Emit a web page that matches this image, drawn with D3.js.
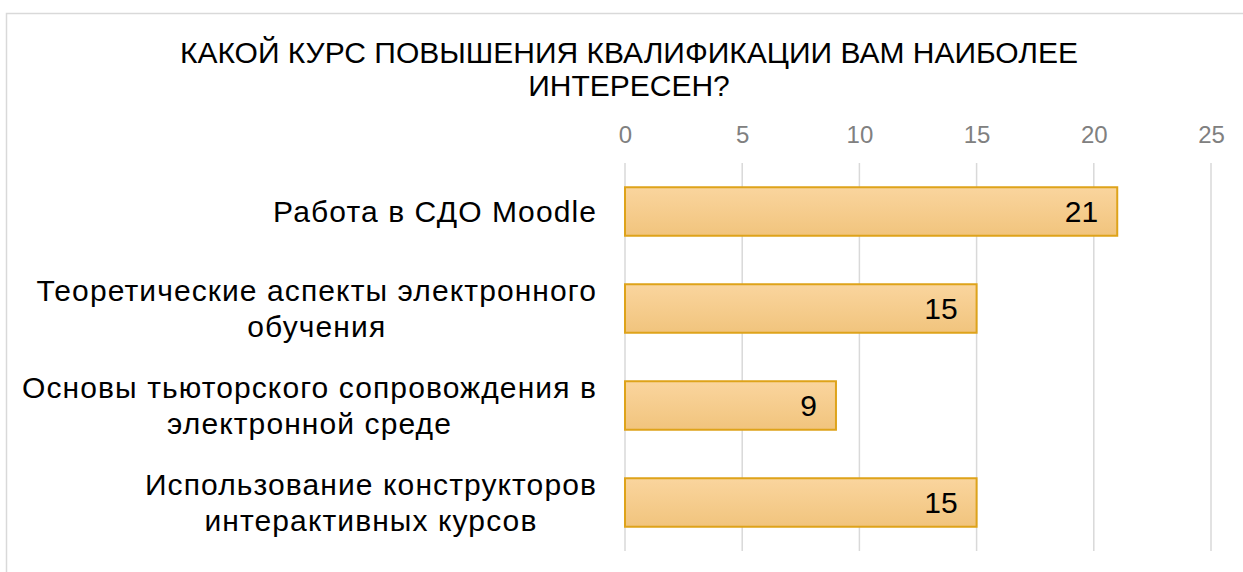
<!DOCTYPE html>
<html><head><meta charset="utf-8">
<script src="https://cdn.jsdelivr.net/npm/d3@7"></script>
<style>html,body{margin:0;padding:0;background:#fff;}</style>
</head><body>
<script>
const titleLines = ["КАКОЙ КУРС ПОВЫШЕНИЯ КВАЛИФИКАЦИИ ВАМ НАИБОЛЕЕ", "ИНТЕРЕСЕН?"];
const categories = [
  ["Работа в СДО Moodle"],
  ["Теоретические аспекты электронного", "обучения"],
  ["Основы тьюторского сопровождения в", "электронной среде"],
  ["Использование конструкторов", "интерактивных курсов"]
];
const values = [21, 15, 9, 15];
const tickValues = [0, 5, 10, 15, 20, 25];

const W = 1243, H = 572;
const FONT = "'Liberation Sans', Arial, sans-serif";
const svg = d3.select("body").append("svg").attr("width", W).attr("height", H)
  .style("font-family", FONT);

const defs = svg.append("defs");
const grad = defs.append("linearGradient").attr("id", "barGrad").attr("x1", 0).attr("y1", 0).attr("x2", 0).attr("y2", 1);
grad.append("stop").attr("offset", "0%").attr("stop-color", "#fad59e");
grad.append("stop").attr("offset", "100%").attr("stop-color", "#f1c47d");

// chart border
svg.append("rect").attr("x", 6.5).attr("y", 13.5).attr("width", 1250).attr("height", 600)
  .attr("fill", "none").attr("stroke", "#d9d9d9").attr("stroke-width", 1.5);

const x = d3.scaleLinear().domain([0, 25]).range([625, 1211]);
const y = d3.scaleBand().domain(d3.range(categories.length)).range([163, 551]).paddingInner(0.5).paddingOuter(0.25);

// title
const title = svg.append("text").attr("text-anchor", "middle").attr("font-size", 30).attr("fill", "#000");
titleLines.forEach((t, i) => title.append("tspan").attr("x", 629).attr("y", 62.5 + i * 33).text(t));

// gridlines
svg.append("g").selectAll("line").data(tickValues).join("line")
  .attr("x1", d => x(d)).attr("x2", d => x(d))
  .attr("y1", 163).attr("y2", 551)
  .attr("stroke", "#d9d9d9").attr("stroke-width", 1.5);

// axis top
const axis = d3.axisTop(x).tickValues(tickValues).tickSize(0).tickPadding(0);
const ag = svg.append("g").attr("transform", "translate(0,143)").call(axis);
ag.select(".domain").remove();
ag.selectAll("text").attr("font-size", 24).attr("fill", "#808080")
  .style("font-family", FONT);

// bars
svg.append("g").selectAll("rect").data(values).join("rect")
  .attr("x", x(0)).attr("y", (d, i) => y(i))
  .attr("width", d => x(d) - x(0)).attr("height", y.bandwidth())
  .attr("fill", "url(#barGrad)").attr("stroke", "#dea31a").attr("stroke-width", 2);

// value labels
svg.append("g").selectAll("text").data(values).join("text")
  .attr("x", d => x(d) - 19).attr("y", (d, i) => y(i) + y.bandwidth() / 2 + 10.5)
  .attr("text-anchor", "end").attr("font-size", 30).attr("fill", "#000").text(d => d);

// category labels (block right-aligned, lines centered within block)
const lh = 36;
const labelRight = 597;
svg.append("g").selectAll("text").data(categories).join("text")
  .attr("text-anchor", "middle").attr("font-size", 30).attr("fill", "#000")
  .attr("letter-spacing", 1.1)
  .each(function (lines, i) {
    const sel = d3.select(this);
    const cy = y(i) + y.bandwidth() / 2;
    const y0 = cy + 10.5 - (lines.length - 1) * lh / 2;
    const spans = lines.map((l, j) => sel.append("tspan").attr("x", 0).attr("y", y0 + j * lh).text(l));
    const maxW = d3.max(spans, s => s.node().getComputedTextLength());
    spans.forEach(s => s.attr("x", labelRight - maxW / 2));
  });
</script>
</body></html>
